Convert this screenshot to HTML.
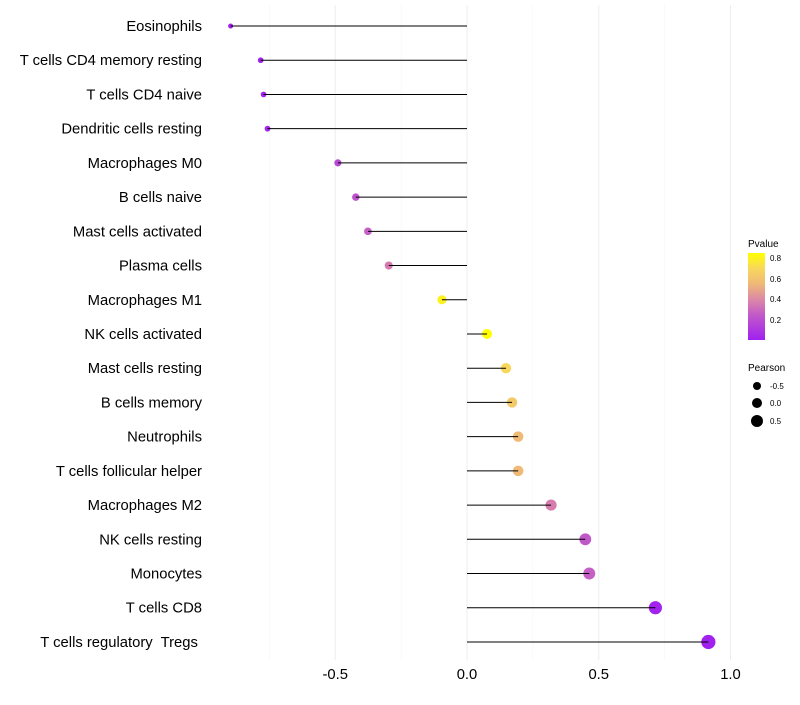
<!DOCTYPE html>
<html><head><meta charset="utf-8"><style>
body{margin:0;background:#fff;font-family:"Liberation Sans",sans-serif}
text{white-space:pre}
</style></head><body>
<svg id="chart" width="800" height="700" xmlns="http://www.w3.org/2000/svg" style="font-family:'Liberation Sans',sans-serif">
<g id="grid"></g>
<g id="dots"></g>
<g id="stems"></g>
<g id="ylabels"></g>
<g id="xlabels"></g>
<defs><linearGradient id="pg" x1="0" y1="1" x2="0" y2="0">
<stop offset="0" stop-color="#A020F0"/><stop offset="0.29" stop-color="#C25AC8"/><stop offset="0.46" stop-color="#DB86A8"/><stop offset="0.64" stop-color="#EEB878"/><stop offset="0.82" stop-color="#F8D75C"/><stop offset="1" stop-color="#FFFF00"/></linearGradient></defs>
<g>
<text x="748" y="247" font-size="10">Pvalue</text>
<rect x="748" y="253" width="17" height="87" fill="url(#pg)"/>
<text x="770" y="261" font-size="8">0.8</text>
<text x="770" y="282" font-size="8">0.6</text>
<text x="770" y="302" font-size="8">0.4</text>
<text x="770" y="323" font-size="8">0.2</text>
</g>
<g>
<text x="748" y="371" font-size="10">Pearson</text>
<circle cx="757" cy="386" r="4" fill="#000"/>
<circle cx="757" cy="403" r="5" fill="#000"/>
<circle cx="757" cy="421" r="6" fill="#000"/>
<text x="770" y="389" font-size="8">-0.5</text>
<text x="770" y="406" font-size="8">0.0</text>
<text x="770" y="424" font-size="8">0.5</text>
</g>
</svg>
<script>
const categories=["Eosinophils","T cells CD4 memory resting","T cells CD4 naive","Dendritic cells resting","Macrophages M0","B cells naive","Mast cells activated","Plasma cells","Macrophages M1","NK cells activated","Mast cells resting","B cells memory","Neutrophils","T cells follicular helper","Macrophages M2","NK cells resting","Monocytes","T cells CD8","T cells regulatory  Tregs "];
const pearson=[-0.897,-0.783,-0.772,-0.757,-0.490,-0.422,-0.376,-0.297,-0.095,0.076,0.148,0.171,0.194,0.194,0.319,0.449,0.464,0.715,0.916];
const pvalues=[0.01,0.02,0.02,0.03,0.18,0.22,0.27,0.36,0.8,0.85,0.7,0.63,0.56,0.56,0.37,0.24,0.27,0.02,0.01];
const xTicks=[-0.5,0,0.5,1.0];
const xTickLabels=["-0.5","0.0","0.5","1.0"];
const xMinor=[-0.75,-0.25,0.25,0.75];
const NS="http://www.w3.org/2000/svg";
const x=v=>467+v*263.5;
const y=i=>26+i*34.22;
const r=v=>4.8+2.5*v;
function mk(t,a,p){const e=document.createElementNS(NS,t);for(const k in a)e.setAttribute(k,a[k]);p.appendChild(e);return e;}
function lerp(a,b,t){return a+(b-a)*t}
const stops=[[0.006,[160,32,240]],[0.25,[194,90,200]],[0.4,[219,134,168]],[0.55,[238,184,120]],[0.7,[248,215,92]],[0.85,[255,255,0]]];
function col(p){if(p<=stops[0][0])return `rgb(${stops[0][1]})`;for(let i=1;i<stops.length;i++){if(p<=stops[i][0]){const t=(p-stops[i-1][0])/(stops[i][0]-stops[i-1][0]);const c=stops[i-1][1].map((v,j)=>Math.round(lerp(v,stops[i][1][j],t)));return `rgb(${c})`;}}return 'rgb(255,255,0)';}
const g=document.getElementById('grid');
xMinor.forEach(v=>{const l=mk('line',{x1:x(v),x2:x(v),y1:5,y2:660,stroke:'#f5f5f5','stroke-width':0.6},g);

});
xTicks.forEach(v=>{const l=mk('line',{x1:x(v),x2:x(v),y1:5,y2:660,stroke:'#ededed','stroke-width':1},g);

});
const st=document.getElementById('stems'),dt=document.getElementById('dots'),yl=document.getElementById('ylabels'),xl=document.getElementById('xlabels');
categories.forEach((c,i)=>{
const s=mk('line',{x1:x(0),x2:x(pearson[i]),y1:y(i),y2:y(i),stroke:'#000','stroke-width':1},st);


const d=mk('circle',{cx:x(pearson[i]),cy:y(i),r:r(pearson[i]),fill:col(pvalues[i])},dt);


const t=mk('text',{x:202,y:y(i)+5,'text-anchor':'end','font-size':14.8,fill:'#000'},yl);t.textContent=c;


});
xTicks.forEach((v,i)=>{const t=mk('text',{x:x(v),y:679,'text-anchor':'middle','font-size':14.8,fill:'#000'},xl);t.textContent=xTickLabels[i];

});
</script>
</body></html>
